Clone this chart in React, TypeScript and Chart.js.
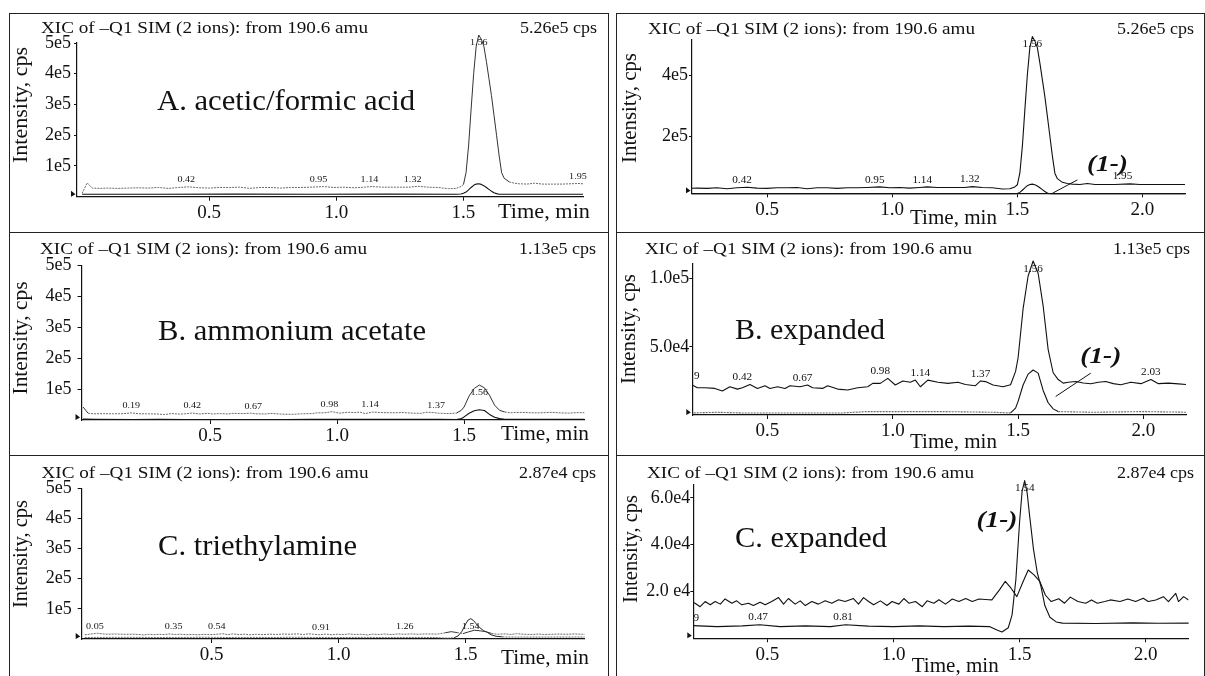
import React, { useEffect, useRef } from "react";
import { Chart, registerables } from "chart.js";

Chart.register(...registerables);

type Pt = [number, number];

// ---------------- Data (time in min, intensity in kcps = 1e3 cps) ----------------
// Sample A: acetic/formic acid
const aUpper: Pt[] = [
  [0.00, 11], [0.02, 45], [0.04, 28], [0.07, 27], [0.10, 28], [0.14, 27], [0.18, 28], [0.22, 29],
  [0.26, 28], [0.30, 30], [0.34, 27], [0.38, 30], [0.42, 32], [0.46, 29], [0.50, 28], [0.54, 30],
  [0.58, 30], [0.62, 31], [0.66, 27], [0.70, 30], [0.74, 30], [0.78, 28], [0.82, 30], [0.86, 30],
  [0.90, 31], [0.95, 33], [0.99, 30], [1.03, 31], [1.07, 29], [1.11, 31], [1.14, 33], [1.18, 31],
  [1.22, 31], [1.26, 31], [1.29, 31], [1.32, 34], [1.36, 31], [1.40, 30], [1.44, 26], [1.47, 27],
  [1.49, 33], [1.50, 40], [1.51, 78], [1.52, 165], [1.53, 285], [1.54, 400], [1.55, 490], [1.56, 526],
  [1.57, 512], [1.58, 490], [1.59, 440], [1.60, 385], [1.61, 329], [1.62, 265], [1.63, 200], [1.64, 135],
  [1.65, 78], [1.66, 60], [1.68, 48], [1.70, 44], [1.72, 42], [1.75, 41], [1.78, 44], [1.81, 41],
  [1.85, 41], [1.89, 41], [1.95, 43], [1.99, 41], [2.03, 41], [2.07, 41], [2.11, 41], [2.15, 41], [2.19, 41],
];
const aLower: Pt[] = [
  [0.00, 8], [0.30, 8], [0.60, 8.5], [0.90, 8], [1.20, 8.5], [1.47, 8], [1.49, 9], [1.50, 11],
  [1.51, 15], [1.52, 22], [1.53, 30], [1.54, 37], [1.55, 41], [1.56, 42], [1.57, 40], [1.58, 36],
  [1.59, 30], [1.60, 24], [1.61, 18], [1.62, 13], [1.63, 10], [1.64, 8], [1.80, 8], [2.00, 8], [2.19, 8],
];
const aPointer: Pt[] = [[1.64, 12], [1.74, 56]];

// Sample B: ammonium acetate
const bUpper: Pt[] = [
  [0.00, 42], [0.02, 22], [0.04, 20], [0.08, 20.5], [0.12, 20], [0.16, 20.5], [0.19, 23], [0.22, 20],
  [0.25, 20], [0.29, 19.5], [0.32, 17.6], [0.35, 20.7], [0.38, 19], [0.40, 20], [0.43, 22.4], [0.46, 19.5],
  [0.49, 21.5], [0.51, 19.5], [0.54, 20.7], [0.57, 19.5], [0.59, 21.5], [0.63, 20.7], [0.66, 22], [0.68, 20],
  [0.72, 19.5], [0.74, 21.5], [0.78, 19], [0.82, 18.3], [0.86, 20], [0.90, 20.7], [0.92, 23.2], [0.95, 23.2],
  [0.98, 26.9], [1.01, 22], [1.04, 25], [1.07, 24], [1.09, 25.6], [1.11, 20.7], [1.14, 25.6], [1.18, 24],
  [1.22, 23.2], [1.26, 24], [1.29, 22.4], [1.33, 21.5], [1.35, 25], [1.37, 24.5], [1.40, 22], [1.44, 20.7],
  [1.47, 22.2], [1.49, 32], [1.50, 42], [1.52, 78], [1.54, 102], [1.56, 113], [1.58, 104], [1.60, 80],
  [1.62, 48], [1.64, 31], [1.66, 26], [1.68, 23.4], [1.70, 24], [1.73, 24.6], [1.76, 23.5], [1.79, 22.9],
  [1.82, 24], [1.85, 24.6], [1.88, 23], [1.91, 22.2], [1.95, 24], [1.99, 23], [2.03, 26], [2.06, 23],
  [2.10, 23.4], [2.14, 22.8], [2.18, 22.2],
];
const bLower: Pt[] = [
  [0.00, 3], [0.05, 2], [0.20, 1.5], [0.30, 2], [0.40, 1.5], [0.60, 1.5], [0.80, 1.5], [0.90, 2.5],
  [1.00, 2.5], [1.20, 2.5], [1.40, 2], [1.47, 1.5], [1.49, 5], [1.50, 10], [1.52, 22], [1.54, 30],
  [1.56, 33], [1.58, 30.7], [1.60, 18], [1.62, 9], [1.64, 4.5], [1.66, 2.5], [1.80, 2], [2.00, 2.5], [2.18, 2],
];
const bPointer: Pt[] = [[1.65, 13.6], [1.79, 30.7]];

// Sample C: triethylamine
const cUpper: Pt[] = [
  [0.00, 14], [0.03, 17], [0.05, 19], [0.08, 16], [0.12, 16.5], [0.16, 15.5], [0.19, 16], [0.213, 15],
  [0.233, 13.5], [0.253, 15.7], [0.273, 14.3], [0.293, 15.7], [0.313, 14.6], [0.332, 16.8], [0.359, 15],
  [0.378, 16], [0.398, 14.3], [0.425, 15], [0.444, 14], [0.471, 15.4], [0.491, 14.3], [0.517, 15.7],
  [0.544, 17.4], [0.564, 14.6], [0.583, 17], [0.610, 14.6], [0.630, 16], [0.650, 14], [0.676, 15.7],
  [0.702, 14.6], [0.729, 16], [0.755, 15], [0.782, 16.5], [0.808, 15.7], [0.841, 17], [0.861, 14.6],
  [0.881, 17.4], [0.901, 15.7], [0.921, 14.3], [0.948, 16], [0.974, 14], [0.994, 15.7], [1.021, 14.6],
  [1.041, 17], [1.061, 15], [1.087, 15.7], [1.114, 13.5], [1.133, 16], [1.160, 15], [1.180, 16.5],
  [1.206, 14.6], [1.233, 16.8], [1.259, 15.7], [1.286, 17], [1.312, 15.7], [1.339, 16.8], [1.378, 16.5],
  [1.39, 16.4], [1.42, 20.7], [1.443, 24.3], [1.466, 21.4], [1.489, 17.8], [1.511, 23.5], [1.534, 29.2],
  [1.557, 27.1], [1.580, 24.3], [1.602, 18.5], [1.625, 15.7], [1.655, 16.9], [1.678, 15], [1.701, 17.6],
  [1.731, 15.7], [1.762, 15], [1.785, 16.4], [1.808, 15], [1.838, 15.7], [1.86, 16.4], [1.898, 15.7],
  [1.929, 16.8], [1.96, 15.7], [1.99, 17.1], [2.01, 15.7], [2.04, 16.4], [2.07, 17.8], [2.09, 15.7],
  [2.119, 19.2], [2.13, 15.7], [2.15, 17.8], [2.17, 16.4], [2.19, 16],
];
const cLower: Pt[] = [
  [0.00, 5], [0.10, 5.5], [0.19, 5.5], [0.30, 5], [0.40, 5.3], [0.47, 5.8], [0.55, 5], [0.65, 5.3],
  [0.75, 5], [0.81, 5.8], [0.90, 5.2], [1.00, 5], [1.10, 5.3], [1.20, 5], [1.30, 5.2], [1.38, 5],
  [1.41, 3.5], [1.43, 2.7], [1.455, 4.5], [1.47, 10], [1.485, 25], [1.50, 50], [1.51, 63], [1.52, 67.4],
  [1.53, 62], [1.54, 52], [1.555, 38], [1.57, 28], [1.585, 22], [1.60, 14], [1.62, 9], [1.645, 7],
  [1.67, 6.5], [1.80, 6.3], [1.95, 6.6], [2.05, 6.4], [2.19, 6.5],
];

// Ticks
const leftXTicks = [0.5, 1.0, 1.5];
const leftXTickLabels = ["0.5", "1.0", "1.5"];
const expXTicks = [0.5, 1.0, 1.5, 2.0];
const expXTickLabels = ["0.5", "1.0", "1.5", "2.0"];
const leftYTicks = [100, 200, 300, 400, 500];
const leftYTickLabels = ["1e5", "2e5", "3e5", "4e5", "5e5"];
const aExpYTicks = [200, 400];
const aExpYTickLabels = ["2e5", "4e5"];
const bExpYTicks = [50, 100];
const bExpYTickLabels = ["5.0e4", "1.0e5"];
const cExpYTicks = [20, 40, 60];
const cExpYTickLabels = ["2.0 e4", "4.0e4", "6.0e4"];

// Texts
const titleText = "XIC of \u2013Q1 SIM (2 ions): from 190.6 amu";
const maxTexts = ["5.26e5 cps", "1.13e5 cps", "2.87e4 cps"];
const panelNames = ["A. acetic/formic acid", "B. ammonium acetate", "C. triethylamine", "B. expanded", "C. expanded"];
const xAxisTitle = "Time, min";
const yAxisTitle = "Intensity, cps";
const ionText = "(1-)";

// Peak labels
const aLabelTexts = ["0.42", "0.95", "1.14", "1.32", "1.95"];
const aLeftLabelTimes = [0.41, 0.93, 1.13, 1.30, 1.95];
const aExpLabelTimes = [0.40, 0.93, 1.12, 1.31, 1.92];
const bLeftLabelTexts = ["0.19", "0.42", "0.67", "0.98", "1.14", "1.37"];
const bLeftLabelTimes = [0.19, 0.43, 0.67, 0.97, 1.13, 1.39];
const bExpLabelTexts = ["0.19", "0.42", "0.67", "0.98", "1.14", "1.37", "2.03"];
const bExpLabelTimes = [0.19, 0.40, 0.64, 0.95, 1.11, 1.35, 2.03];
const cLeftLabelTexts = ["0.05", "0.35", "0.54", "0.91", "1.26"];
const cLeftLabelTimes = [0.04, 0.35, 0.52, 0.93, 1.26];
const cExpLabelTexts = ["0.19", "0.47", "0.81"];
const cExpLabelTimes = [0.19, 0.463, 0.80];

// ---------------- Rendering ----------------
const SERIF = "'Liberation Serif', 'Times New Roman', Times, serif";
const INK = "#111";
const FAINT = "#6a6a6a";

function fitText(ctx: any, text: string, x: number, y: number, font: string, opts: any) {
  const { width = 0, stretch = 1, align = "left", baseline = "alphabetic" } = opts || {};
  ctx.save();
  ctx.font = font;
  ctx.textBaseline = baseline;
  ctx.textAlign = "left";
  const w = ctx.measureText(text).width || 1;
  const sx = width > 0 ? width / w : stretch;
  const dw = w * sx;
  const x0 = align === "left" ? x : align === "right" ? x - dw : x - dw / 2;
  ctx.translate(x0, y);
  ctx.scale(sx, 1);
  ctx.fillStyle = INK;
  ctx.fillText(text, 0, 0);
  ctx.restore();
}

function localMax(points: Pt[], t: number, win: number) {
  let best = -Infinity;
  for (const [x, y] of points) if (Math.abs(x - t) <= win && y > best) best = y;
  if (best === -Infinity) {
    let d = Infinity;
    for (const [x, y] of points) if (Math.abs(x - t) < d) { d = Math.abs(x - t); best = y; }
  }
  return best;
}

function decorPlugin(p: any) {
  return {
    id: "decor",
    afterDraw(chart: any) {
      const ctx = chart.ctx;
      const xs = chart.scales.x;
      const ys = chart.scales.y;
      const ox = p.box.left;
      const oy = p.box.top;
      const ca = chart.chartArea;

      for (const t of p.texts) {
        fitText(ctx, t.text, t.x - ox, t.y - oy, `${t.size}px ${SERIF}`, { width: t.width, align: t.align });
      }
      // y axis title
      ctx.save();
      ctx.translate(p.intensity.cx - ox, p.intensity.cy - oy);
      ctx.rotate(-Math.PI / 2);
      fitText(ctx, yAxisTitle, 0, 0, `20px ${SERIF}`, { width: p.intensity.width, align: "center", baseline: "middle" });
      ctx.restore();

      // peak labels
      ctx.save();
      ctx.beginPath();
      ctx.rect(ca.left + 1, 0, chart.width, chart.height);
      ctx.clip();
      p.labelTexts.forEach((txt: string, i: number) => {
        const t = p.labelTimes[i];
        const v = localMax(p.labelTrace, t, 0.035);
        fitText(ctx, txt, xs.getPixelForValue(t), ys.getPixelForValue(v) - 7, `${p.labelSize}px ${SERIF}`,
          { stretch: 1.12, align: "center", baseline: "middle" });
      });
      const av = localMax(p.apex.points, p.apex.t, 0.02);
      fitText(ctx, p.apex.text, xs.getPixelForValue(p.apex.t), ys.getPixelForValue(av) + 8, `${p.labelSize}px ${SERIF}`,
        { stretch: 1.12, align: "center", baseline: "middle" });
      ctx.restore();

      if (p.ion) {
        fitText(ctx, ionText, xs.getPixelForValue(p.ion.t), ys.getPixelForValue(p.ion.v), `bold italic 24px ${SERIF}`,
          { width: 41, align: "center", baseline: "middle" });
      }

      // baseline marker
      const L = ca.left;
      const B = ca.bottom;
      ctx.save();
      ctx.fillStyle = INK;
      ctx.beginPath();
      ctx.moveTo(L - 6, B - 6);
      ctx.lineTo(L - 6, B);
      ctx.lineTo(L - 1.5, B - 2.5);
      ctx.closePath();
      ctx.fill();
      ctx.restore();
    },
  };
}

function makeConfig(p: any) {
  const yWidth = p.area.left - p.box.left;
  const xHeight = p.box.top + p.box.height - p.area.bottom;
  const padding = {
    left: 0,
    top: p.area.top - p.box.top,
    right: p.box.left + p.box.width - p.area.right,
    bottom: 0,
  };
  const datasets = p.traces.map((tr: any) => {
    const faint = tr.faintBelow;
    const isFaint = (c: any) => faint !== undefined && c.p0.parsed.y < faint && c.p1.parsed.y < faint;
    return {
      data: tr.points.map(([x, y]: Pt) => ({ x, y })),
      borderColor: tr.color,
      borderWidth: tr.width,
      pointRadius: 0,
      tension: 0,
      fill: false,
      borderJoinStyle: "round",
      clip: { left: 0, top: false, right: 0, bottom: 1 },
      segment: {
        borderColor: (c: any) => (isFaint(c) ? FAINT : tr.color),
        borderDash: (c: any) => (isFaint(c) ? [2, 1] : []),
      },
    };
  });
  const zeroPad = (s: any) => { s.paddingLeft = 0; s.paddingRight = 0; s.paddingTop = 0; s.paddingBottom = 0; };
  return {
    type: "line",
    data: { datasets },
    options: {
      responsive: false,
      animation: false,
      devicePixelRatio: 1,
      events: [],
      layout: { padding },
      plugins: { legend: { display: false }, tooltip: { enabled: false }, title: { display: false } },
      scales: {
        x: {
          type: "linear",
          min: p.xRange[0],
          max: p.xRange[1],
          afterBuildTicks: (s: any) => { s.ticks = p.xTicks.map((v: number) => ({ value: v })); },
          afterFit: (s: any) => { s.height = xHeight; zeroPad(s); },
          ticks: {
            autoSkip: false,
            maxRotation: 0,
            minRotation: 0,
            padding: 1,
            color: INK,
            font: { family: SERIF, size: 19 },
            callback: (_v: any, i: number) => p.xTickLabels[i],
          },
          grid: { drawOnChartArea: false, drawTicks: true, tickLength: 4, color: INK, lineWidth: 1 },
          border: { display: true, color: INK, width: 1.2 },
        },
        y: {
          type: "linear",
          min: p.yRange[0],
          max: p.yRange[1],
          afterBuildTicks: (s: any) => { s.ticks = p.yTicks.map((v: number) => ({ value: v })); },
          afterFit: (s: any) => { s.width = yWidth; zeroPad(s); },
          ticks: {
            autoSkip: false,
            padding: p.yTickPad,
            color: INK,
            font: { family: SERIF, size: 18 },
            callback: (_v: any, i: number) => p.yTickLabels[i],
          },
          grid: { drawOnChartArea: false, drawTicks: true, tickLength: p.yTickLen, color: INK, lineWidth: 1 },
          border: { display: true, color: INK, width: 1.2 },
        },
      },
    },
    plugins: [decorPlugin(p)],
  };
}

const panels: any[] = [
  {
    box: { left: 10, top: 14, width: 598, height: 217 },
    area: { left: 77, top: 43, right: 583, bottom: 196.7 },
    xRange: [-0.02, 1.97], yRange: [0, 500],
    xTicks: leftXTicks, xTickLabels: leftXTickLabels, yTicks: leftYTicks, yTickLabels: leftYTickLabels,
    yTickPad: 3, yTickLen: 3,
    traces: [{ points: aUpper, color: "#333", width: 1, faintBelow: 50 }, { points: aLower, color: "#111", width: 1.1 }],
    labelTrace: aUpper, labelTexts: aLabelTexts, labelTimes: aLeftLabelTimes, labelSize: 9,
    apex: { points: aUpper, text: "1.56", t: 1.56 },
    texts: [
      { text: titleText, x: 41, y: 33, size: 16, width: 327, align: "left" },
      { text: maxTexts[0], x: 597, y: 33, size: 16, width: 77, align: "right" },
      { text: panelNames[0], x: 157, y: 110, size: 29, width: 258, align: "left" },
      { text: xAxisTitle, x: 498, y: 218, size: 20, width: 92, align: "left" },
    ],
    intensity: { cx: 22, cy: 105, width: 116 },
  },
  {
    box: { left: 617, top: 14, width: 587, height: 217 },
    area: { left: 692, top: 40, right: 1185, bottom: 193.3 },
    xRange: [0.20, 2.17], yRange: [12, 515],
    xTicks: expXTicks, xTickLabels: expXTickLabels, yTicks: aExpYTicks, yTickLabels: aExpYTickLabels,
    yTickPad: 1, yTickLen: 3,
    traces: [
      { points: aUpper, color: "#111", width: 1.1 },
      { points: aLower, color: "#111", width: 1.1 },
      { points: aPointer, color: "#111", width: 1 },
    ],
    labelTrace: aUpper, labelTexts: aLabelTexts, labelTimes: aExpLabelTimes, labelSize: 10,
    apex: { points: aUpper, text: "1.56", t: 1.56 },
    ion: { t: 1.86, v: 105 },
    texts: [
      { text: titleText, x: 648, y: 33.5, size: 16, width: 327, align: "left" },
      { text: maxTexts[0], x: 1194, y: 33.5, size: 16, width: 77, align: "right" },
      { text: xAxisTitle, x: 910, y: 224, size: 20, width: 87, align: "left" },
    ],
    intensity: { cx: 631, cy: 108, width: 110 },
  },
  {
    box: { left: 10, top: 233, width: 598, height: 221 },
    area: { left: 81.5, top: 265.3, right: 584.5, bottom: 420 },
    xRange: [-0.006, 1.974], yRange: [0, 500],
    xTicks: leftXTicks, xTickLabels: leftXTickLabels, yTicks: leftYTicks, yTickLabels: leftYTickLabels,
    yTickPad: 6, yTickLen: 4,
    traces: [{ points: bUpper, color: "#333", width: 1, faintBelow: 30 }, { points: bLower, color: "#111", width: 1.1 }],
    labelTrace: bUpper, labelTexts: bLeftLabelTexts, labelTimes: bLeftLabelTimes, labelSize: 9,
    apex: { points: bUpper, text: "1.56", t: 1.56 },
    texts: [
      { text: titleText, x: 40, y: 254, size: 16, width: 327, align: "left" },
      { text: maxTexts[1], x: 596, y: 254, size: 16, width: 77, align: "right" },
      { text: panelNames[1], x: 158, y: 339.5, size: 29, width: 268, align: "left" },
      { text: xAxisTitle, x: 501, y: 440, size: 20, width: 88, align: "left" },
    ],
    intensity: { cx: 22, cy: 338, width: 113 },
  },
  {
    box: { left: 617, top: 233, width: 587, height: 221 },
    area: { left: 692.3, top: 263.7, right: 1186, bottom: 415 },
    xRange: [0.20, 2.17], yRange: [0, 111],
    xTicks: expXTicks, xTickLabels: expXTickLabels, yTicks: bExpYTicks, yTickLabels: bExpYTickLabels,
    yTickPad: 0, yTickLen: 3,
    traces: [
      { points: bUpper, color: "#111", width: 1.1 },
      { points: bLower, color: "#111", width: 1.1, faintBelow: 4 },
      { points: bPointer, color: "#111", width: 1 },
    ],
    labelTrace: bUpper, labelTexts: bExpLabelTexts, labelTimes: bExpLabelTimes, labelSize: 10,
    apex: { points: bUpper, text: "1.56", t: 1.56 },
    ion: { t: 1.83, v: 42.9 },
    texts: [
      { text: titleText, x: 645, y: 254, size: 16, width: 327, align: "left" },
      { text: maxTexts[1], x: 1190, y: 254, size: 16, width: 77, align: "right" },
      { text: panelNames[3], x: 735, y: 339.3, size: 29, width: 150, align: "left" },
      { text: xAxisTitle, x: 910, y: 448, size: 20, width: 87, align: "left" },
    ],
    intensity: { cx: 630, cy: 329, width: 110 },
  },
  {
    box: { left: 10, top: 456, width: 598, height: 220 },
    area: { left: 81.7, top: 488.3, right: 584.5, bottom: 639 },
    xRange: [-0.012, 1.968], yRange: [0, 500],
    xTicks: leftXTicks, xTickLabels: leftXTickLabels, yTicks: leftYTicks, yTickLabels: leftYTickLabels,
    yTickPad: 6, yTickLen: 4,
    traces: [
      { points: cUpper, color: "#333", width: 1, faintBelow: 22 },
      { points: cLower, color: "#222", width: 1, faintBelow: 8 },
    ],
    labelTrace: cUpper, labelTexts: cLeftLabelTexts, labelTimes: cLeftLabelTimes, labelSize: 9,
    apex: { points: cLower, text: "1.54", t: 1.52 },
    texts: [
      { text: titleText, x: 41.5, y: 477.5, size: 16, width: 327, align: "left" },
      { text: maxTexts[2], x: 596, y: 477.5, size: 16, width: 77, align: "right" },
      { text: panelNames[2], x: 158, y: 555, size: 29, width: 199, align: "left" },
      { text: xAxisTitle, x: 501, y: 664, size: 20, width: 88, align: "left" },
    ],
    intensity: { cx: 22, cy: 554, width: 108 },
  },
  {
    box: { left: 617, top: 456, width: 587, height: 220 },
    area: { left: 693.3, top: 485, right: 1188.6, bottom: 638.3 },
    xRange: [0.206, 2.17], yRange: [0, 65.5],
    xTicks: expXTicks, xTickLabels: expXTickLabels, yTicks: cExpYTicks, yTickLabels: cExpYTickLabels,
    yTickPad: 0, yTickLen: 3,
    traces: [
      { points: cUpper, color: "#111", width: 1.1 },
      { points: cLower, color: "#111", width: 1.1 },
    ],
    labelTrace: cLower, labelTexts: cExpLabelTexts, labelTimes: cExpLabelTimes, labelSize: 10,
    apex: { points: cLower, text: "1.54", t: 1.52 },
    ion: { t: 1.41, v: 50 },
    texts: [
      { text: titleText, x: 647, y: 478, size: 16, width: 327, align: "left" },
      { text: maxTexts[2], x: 1194, y: 478, size: 16, width: 77, align: "right" },
      { text: panelNames[4], x: 735, y: 546.7, size: 29, width: 152, align: "left" },
      { text: xAxisTitle, x: 911.7, y: 672, size: 20, width: 87, align: "left" },
    ],
    intensity: { cx: 631.7, cy: 549, width: 108 },
  },
];

function Panel({ spec }: { spec: any }) {
  const ref = useRef<HTMLCanvasElement | null>(null);
  useEffect(() => {
    const canvas = ref.current;
    if (!canvas) return;
    const chart = new Chart(canvas, makeConfig(spec) as any);
    return () => chart.destroy();
  }, [spec]);
  return (
    <div style={{ position: "absolute", left: spec.box.left, top: spec.box.top, width: spec.box.width, height: spec.box.height }}>
      <canvas ref={ref} width={spec.box.width} height={spec.box.height} style={{ display: "block" }} />
    </div>
  );
}

export default function App() {
  const line = "1px solid #222";
  return (
    <div style={{ position: "absolute", left: 0, top: 0, width: 1205, height: 676, background: "#fff", overflow: "hidden" }}>
      <div style={{ position: "absolute", left: 9, top: 13, width: 600, height: 700, borderLeft: line, borderTop: line, borderRight: line, boxSizing: "border-box" }} />
      <div style={{ position: "absolute", left: 616, top: 13, width: 589, height: 700, borderLeft: line, borderTop: line, borderRight: line, boxSizing: "border-box" }} />
      <div style={{ position: "absolute", left: 9, top: 232, width: 600, height: 0, borderTop: line }} />
      <div style={{ position: "absolute", left: 9, top: 455, width: 600, height: 0, borderTop: line }} />
      <div style={{ position: "absolute", left: 616, top: 232, width: 589, height: 0, borderTop: line }} />
      <div style={{ position: "absolute", left: 616, top: 455, width: 589, height: 0, borderTop: line }} />
      {panels.map((p, i) => (
        <Panel key={i} spec={p} />
      ))}
    </div>
  );
}
